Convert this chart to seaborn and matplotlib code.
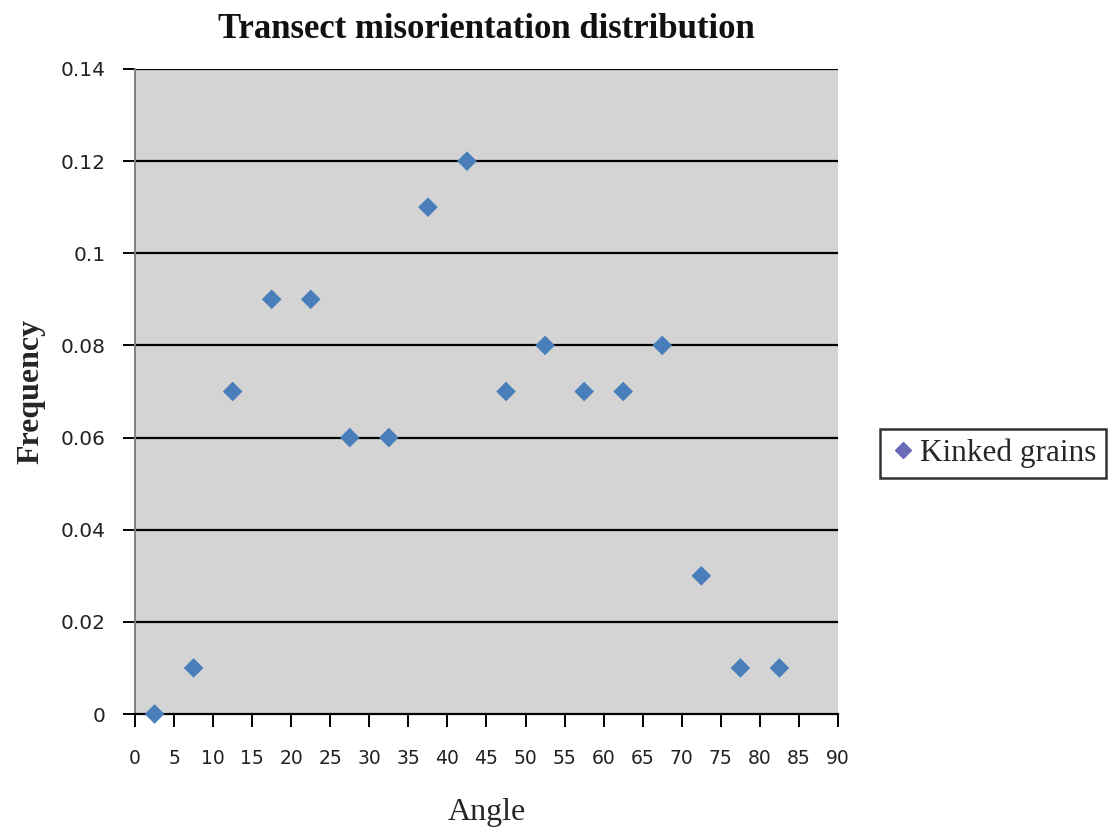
import matplotlib
matplotlib.use("Agg")
import matplotlib.pyplot as plt
import seaborn as sns
import pandas as pd

angles = [2.5, 7.5, 12.5, 17.5, 22.5, 27.5, 32.5, 37.5, 42.5, 47.5, 52.5,
          57.5, 62.5, 67.5, 72.5, 77.5, 82.5]
frequency = [0.0, 0.01, 0.07, 0.09, 0.09, 0.06, 0.06, 0.11, 0.12, 0.07, 0.08,
             0.07, 0.07, 0.08, 0.03, 0.01, 0.01]
series_name = "Kinked grains"
x_ticks = list(range(0, 91, 5))
y_ticks = [0, 0.02, 0.04, 0.06, 0.08, 0.1, 0.12, 0.14]
y_tick_labels = ["0", "0.02", "0.04", "0.06", "0.08", "0.1", "0.12", "0.14"]

df = pd.DataFrame({"Angle": angles, "Frequency": frequency, "series": series_name})

sns.set_style("white")
serif = ["Liberation Serif", "DejaVu Serif"]

fig = plt.figure(figsize=(11.12, 8.32), dpi=100)
ax = fig.add_axes([0.1214, 0.1418, 0.6322, 0.7753])
ax.set_facecolor("#d4d4d4")

for y in y_ticks[1:]:
    ax.axhline(y, color="black", lw=1.6, zorder=1)

sns.scatterplot(data=df, x="Angle", y="Frequency", hue="series",
                palette=["#4a7ebb"], marker="D", s=100, edgecolor="none",
                ax=ax, zorder=3, legend=False, clip_on=False)

ax.set_xlim(0, 90)
ax.set_ylim(0, 0.14)
ax.set_xticks(x_ticks)
ax.set_xticklabels([str(t) for t in x_ticks], fontsize=13.5, color="#222222")
ax.set_yticks(y_ticks)
ax.set_yticklabels(y_tick_labels, fontsize=14.5, color="#222222")
ax.tick_params(axis="both", direction="out", length=9, width=1.4, color="black",
               bottom=True, left=True)
ax.tick_params(axis="x", pad=16)
ax.tick_params(axis="y", pad=12)

for side in ["top", "right"]:
    ax.spines[side].set_visible(False)
ax.spines["left"].set_color("#808080")
ax.spines["left"].set_linewidth(1.4)
ax.spines["bottom"].set_color("black")
ax.spines["bottom"].set_linewidth(1.6)

ax.set_title("Transect misorientation distribution", family=serif,
             fontsize=25, fontweight="bold", pad=22, color="#111111")
ax.set_xlabel("Angle", family=serif, fontsize=23, labelpad=22)
ax.set_ylabel("Frequency", family=serif, fontsize=23, fontweight="bold",
              labelpad=11)

handle = plt.Line2D([], [], marker="D", linestyle="none", color="#6a6ab8",
                    markersize=8)
leg = fig.legend([handle], [series_name], loc="center left",
                 bbox_to_anchor=(0.791, 0.455), frameon=True, fancybox=False,
                 prop={"family": serif, "size": 22.5}, handletextpad=0.1,
                 borderpad=0.3, handlelength=0.9, borderaxespad=0)
leg.get_frame().set_edgecolor("black")
leg.get_frame().set_linewidth(1.8)

fig.savefig("out.png", dpi=100)
